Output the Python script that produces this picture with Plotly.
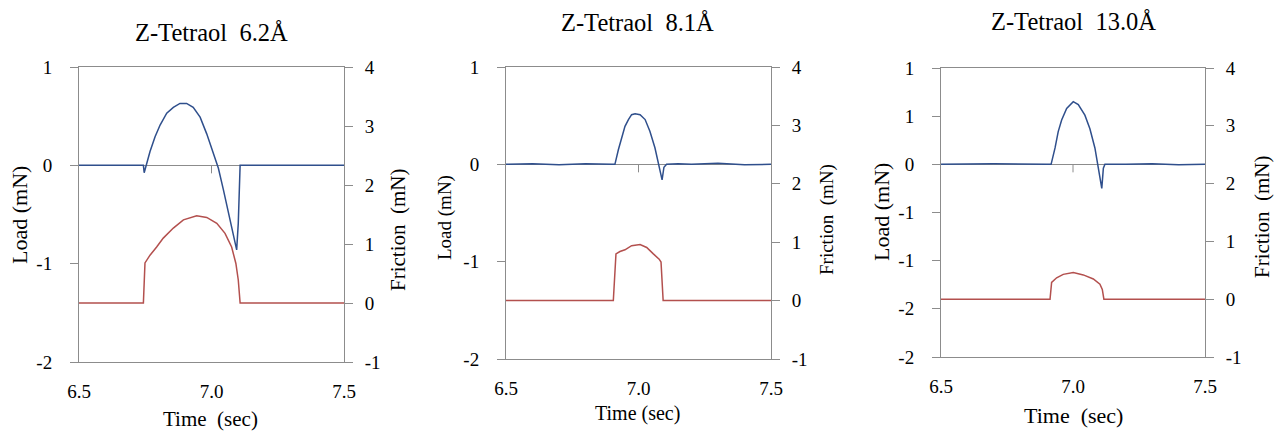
import plotly.graph_objects as go

# ---------------- data ----------------
titles = ["Z-Tetraol\u00a0 6.2Å", "Z-Tetraol\u00a0 8.1Å", "Z-Tetraol\u00a0 13.0Å"]

t1_load = [6.50, 6.60, 6.70, 6.743, 6.746, 6.755, 6.768, 6.787, 6.806, 6.831, 6.856, 6.881,
           6.906, 6.931, 6.957, 6.982, 7.007, 7.026, 7.045, 7.064, 7.082, 7.095, 7.101,
           7.108, 7.20, 7.30, 7.40, 7.50]
load1 = [0, 0, 0, 0, -0.075, 0.02, 0.14, 0.29, 0.41, 0.53, 0.59, 0.63,
         0.63, 0.59, 0.49, 0.32, 0.12, -0.03, -0.25, -0.49, -0.69, -0.86, -0.59,
         0, 0, 0, 0, 0]
t1_fric = [6.50, 6.743, 6.749, 6.768, 6.793, 6.818, 6.856, 6.894, 6.944, 6.982, 7.020,
           7.051, 7.076, 7.092, 7.101, 7.108, 7.20, 7.50]
fric1 = [0, 0, 0.68, 0.81, 0.95, 1.10, 1.27, 1.41, 1.48, 1.45, 1.35,
         1.18, 0.95, 0.67, 0.39, 0, 0, 0]

t2_load = [6.50, 6.60, 6.70, 6.80, 6.90, 6.911, 6.924, 6.937, 6.949, 6.962, 6.974, 6.987,
           7.006, 7.025, 7.043, 7.062, 7.075, 7.084, 7.089, 7.096, 7.106, 7.15, 7.20,
           7.30, 7.40, 7.50]
load2 = [0, 0.005, -0.005, 0.005, 0, 0, 0.15, 0.29, 0.39, 0.46, 0.51, 0.52,
         0.51, 0.46, 0.34, 0.17, 0.02, -0.10, -0.16, -0.03, 0, 0.005, 0,
         0.01, -0.005, 0]
t2_fric = [6.50, 6.905, 6.915, 6.930, 6.949, 6.974, 7.006, 7.031, 7.056, 7.078, 7.085,
           7.093, 7.50]
fric2 = [0, 0, 0.80, 0.84, 0.87, 0.94, 0.96, 0.91, 0.80, 0.71, 0.66,
         0, 0]

t3_load = [6.50, 6.70, 6.90, 6.917, 6.932, 6.944, 6.957, 6.976, 7.001, 7.020, 7.045,
           7.064, 7.083, 7.096, 7.105, 7.109, 7.115, 7.121, 7.20, 7.30, 7.40, 7.50]
load3 = [0, 0.005, 0, 0, 0.17, 0.34, 0.46, 0.58, 0.65, 0.62, 0.51,
         0.37, 0.17, -0.02, -0.16, -0.25, -0.04, 0, 0, 0.005, -0.005, 0]
t3_fric = [6.50, 6.913, 6.919, 6.938, 6.963, 7.001, 7.039, 7.077, 7.102, 7.111, 7.117, 7.50]
fric3 = [0, 0, 0.29, 0.37, 0.43, 0.46, 0.42, 0.35, 0.26, 0.17, 0, 0]

x_ticks = [6.5, 7.0, 7.5]
x_ticktext = ["6.5", "7.0", "7.5"]
load_ticks_12 = [-2, -1, 0, 1]
load_ticktext_12 = ["-2", "-1", "0", "1"]
load_ticks_3 = [-2, -1.5, -1, -0.5, 0, 0.5, 1]
load_ticktext_3 = ["-2", "-2", "-1", "-1", "0", "1", "1"]
fric_ticks = [-1, 0, 1, 2, 3, 4]
fric_ticktext = ["-1", "0", "1", "2", "3", "4"]

loads = [(t1_load, load1), (t2_load, load2), (t3_load, load3)]
frics = [(t1_fric, fric1), (t2_fric, fric2), (t3_fric, fric3)]

# ---------------- layout ----------------
W, H = 1274, 432
BLUE = "#2f4f8c"
RED = "#b3504e"
GRAY = "#8c8c8c"
FONT = "'Liberation Serif', 'DejaVu Serif', 'Times New Roman', Times, serif"

# plot boxes in pixels: left, right, top, bottom
boxes = [(79, 344, 67, 362), (506, 771, 67, 359), (941, 1205, 68, 357)]
title_pos = [(211, 33, 24.5), (638, 23, 24.5), (1073, 21, 24.5)]
time_pos = [(210, 419, 21), (638, 413, 20), (1073, 415, 22)]
load_pos = [(20, 215, 22), (445, 218, 19), (882, 212, 22)]
fric_pos = [(398, 230, 21), (827, 220, 19), (1262, 217, 21)]
tick_font = [19, 19, 19]

fig = go.Figure()
layout = dict(width=W, height=H, margin=dict(l=0, r=0, t=0, b=0, pad=0),
              paper_bgcolor="white", plot_bgcolor="white", showlegend=False,
              font=dict(family=FONT, color="black"))
annotations = []
shapes = []

for i in range(3):
    xa = "x" if i == 0 else f"x{i+1}"
    ya_l = f"y{2*i+1}" if i > 0 else "y"
    ya_r = f"y{2*i+2}"
    xkey = "xaxis" if i == 0 else f"xaxis{i+1}"
    ylkey = "yaxis" if i == 0 else f"yaxis{2*i+1}"
    yrkey = f"yaxis{2*i+2}"
    l, r, t, b = boxes[i]
    dx = [l / W, r / W]
    dy = [1 - b / H, 1 - t / H]

    tl, vl = loads[i]
    tf, vf = frics[i]
    fig.add_trace(go.Scatter(x=tf, y=vf, mode="lines", xaxis=xa, yaxis=ya_r,
                             line=dict(color=RED, width=1.5)))
    fig.add_trace(go.Scatter(x=tl, y=vl, mode="lines", xaxis=xa, yaxis=ya_l,
                             line=dict(color=BLUE, width=1.5)))

    layout[xkey] = dict(domain=dx, anchor=ya_l, range=[6.5, 7.5], tickvals=x_ticks,
                        ticktext=x_ticktext, showline=True, linecolor=GRAY, linewidth=1,
                        mirror=True, showgrid=False, zeroline=False, ticks="",
                        automargin=False,
                        ticklabelstandoff=12, tickfont=dict(size=tick_font[i], family=FONT))
    if i < 2:
        ltv, ltt = load_ticks_12, load_ticktext_12
    else:
        ltv, ltt = load_ticks_3, load_ticktext_3
    layout[ylkey] = dict(domain=dy, anchor=xa, range=[-2, 1], tickvals=ltv, ticktext=ltt,
                         showline=True, linecolor=GRAY, linewidth=1, ticks="outside",
                         ticklen=8, tickcolor=GRAY, showgrid=False, zeroline=True,
                         zerolinecolor=GRAY, zerolinewidth=1, ticklabelstandoff=14,
                         automargin=False,
                         tickfont=dict(size=tick_font[i], family=FONT))
    layout[yrkey] = dict(domain=dy, anchor=xa, overlaying=ya_l, side="right", range=[-1, 4],
                         tickvals=fric_ticks, ticktext=fric_ticktext, showline=True,
                         linecolor=GRAY, linewidth=1, ticks="outside", ticklen=8,
                         tickcolor=GRAY, showgrid=False, zeroline=False, ticklabelstandoff=8,
                         automargin=False,
                         tickfont=dict(size=tick_font[i], family=FONT))

    # small tick mark at 7.0 on the load zero line
    shapes.append(dict(type="line", xref=xa, yref=ya_l, x0=7.0, x1=7.0,
                       ysizemode="pixel", yanchor=0, y0=0, y1=-8,
                       line=dict(color=GRAY, width=1)))

    for (px, py, fs), txt, ang in [(title_pos[i], titles[i], 0),
                                    (time_pos[i], "Time\u00a0 (sec)" if i != 1 else "Time (sec)", 0),
                                    (load_pos[i], "Load (mN)", -90),
                                    (fric_pos[i], "Friction\u00a0 (mN)", -90)]:
        annotations.append(dict(text=txt, x=px / W, y=1 - py / H, xref="paper", yref="paper",
                                xanchor="center", yanchor="middle", showarrow=False,
                                textangle=ang, font=dict(size=fs, family=FONT, color="black")))

layout["annotations"] = annotations
layout["shapes"] = shapes
fig.update_layout(**layout)
fig.write_html("out.html")
